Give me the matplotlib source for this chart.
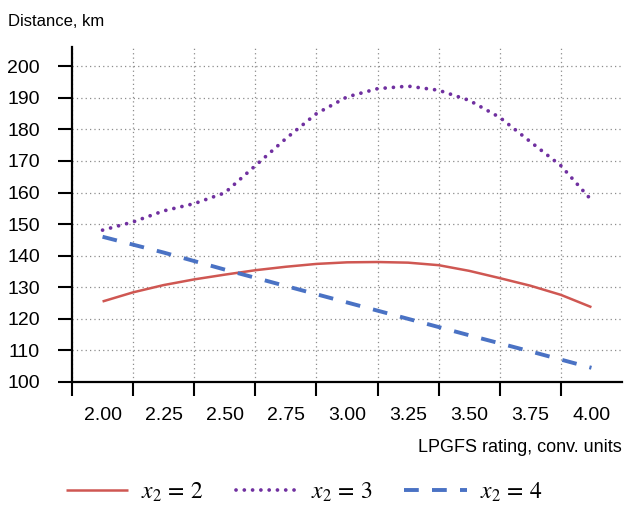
import numpy as np
import matplotlib
matplotlib.use('Agg')
import matplotlib.pyplot as plt
from matplotlib import font_manager as fm

names = set(f.name for f in fm.fontManager.ttflist)
fam = 'Liberation Sans Narrow' if 'Liberation Sans Narrow' in names else 'Liberation Sans'
plt.rcParams['font.family'] = [fam, 'DejaVu Sans']
plt.rcParams['mathtext.fontset'] = 'stix'

# data
x_fine = [2.0, 2.125, 2.25, 2.375, 2.5, 2.625, 2.75, 2.875, 3.0,
          3.125, 3.25, 3.375, 3.5, 3.625, 3.75, 3.875, 4.0]
red = [125.5, 128.4, 130.7, 132.5, 134.0, 135.4, 136.5, 137.4, 137.9,
       138.0, 137.8, 137.0, 135.2, 132.9, 130.5, 127.6, 123.7]
purple = [148.1, 150.7, 154.2, 156.5, 159.9, 168.5, 177.1, 185.0, 190.3,
          192.9, 193.7, 192.4, 189.2, 183.8, 176.1, 168.5, 157.6]
x_cat = [2.0, 2.25, 2.5, 2.75, 3.0, 3.25, 3.5, 3.75, 4.0]
blue = [146.0, 141.0, 135.6, 130.4, 125.2, 120.0, 114.8, 109.7, 104.5]
labels = ['2.00', '2.25', '2.50', '2.75', '3.00', '3.25', '3.50', '3.75', '4.00']

fig = plt.figure(figsize=(6.27, 5.07), dpi=100)
ax = fig.add_axes([72/627, 1-382/507, 550/627, (382-47)/507])

l1, = ax.plot(x_fine, red, color='#cf5752', lw=1.8, solid_capstyle='butt')
l2, = ax.plot(x_fine, purple, color='#7030a0', lw=2.7, linestyle=(0, (0.01, 2.2)),
              dash_capstyle='round')
l3, = ax.plot(x_cat, blue, color='#4a72c4', lw=2.8, linestyle=(0, (3.8, 3.4)),
              dash_capstyle='butt')

ax.set_xlim(1.875, 4.125)
ax.set_ylim(100, 206.1)
ax.set_xticks(np.arange(1.875, 3.9, 0.25))
ax.set_xticklabels([])
ax.set_xticks(x_cat, minor=True)
ax.set_xticklabels(labels, minor=True)
ax.set_yticks(np.arange(100, 201, 10))
ax.tick_params(axis='x', which='major', length=10, width=1.5, direction='out')
ax.tick_params(axis='x', which='minor', length=0, pad=18, labelsize=14)
ax.tick_params(axis='y', length=10, width=1.5, pad=13, labelsize=14)
ax.grid(True, which='major', linestyle=(0, (1, 2.5)), color='#8c8c8c', lw=0.9)
for s in ['top', 'right']:
    ax.spines[s].set_visible(False)
for s in ['left', 'bottom']:
    ax.spines[s].set_linewidth(1.6)

fig.text(8/627, 1-22/507, 'Distance, km', fontsize=12, va='center', ha='left')
fig.text(622/627, 1-448/507, 'LPGFS rating, conv. units', fontsize=13, va='center', ha='right')

fig.legend([l1, l2, l3], [r'$x_2\,=\,2$', r'$x_2\,=\,3$', r'$x_2\,=\,4$'], loc='center',
           bbox_to_anchor=(0.485, 1-492/507), ncol=3, frameon=False, fontsize=17,
           handlelength=2.63, handletextpad=0.55, columnspacing=1.36)

fig.savefig('out.png', dpi=100)
